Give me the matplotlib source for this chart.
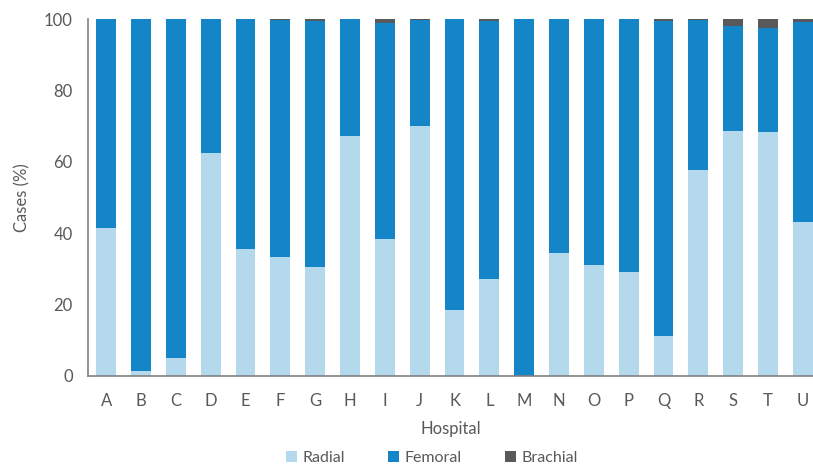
import numpy as np
import matplotlib.pyplot as plt

# Valores (% de casos por hospital)
hospitals = list('ABCDEFGHIJKLMNOPQRSTU')
radial = [41.5, 1.5, 5.0, 62.4, 35.6, 33.3, 30.5, 67.2, 38.5, 70.0, 18.4,
          27.1, 0.0, 34.5, 31.1, 29.1, 11.3, 57.6, 68.6, 68.3, 43.0]
brachial = [0.0, 0.0, 0.0, 0.0, 0.0, 0.2, 0.7, 0.0, 1.0, 0.3, 0.0,
            0.5, 0.0, 0.0, 0.0, 0.0, 0.6, 0.3, 1.9, 2.5, 0.8]
femoral = [100 - r - b for r, b in zip(radial, brachial)]

c_radial = '#B4D9EC'
c_femoral = '#1485C6'
c_brachial = '#58595B'
txt = '#595959'

plt.rcParams['font.family'] = ['Lato', 'DejaVu Sans']

fig = plt.figure(figsize=(8.13, 4.68), dpi=100)
ax = fig.add_axes([88 / 813, 1 - 376 / 468, (813 - 88) / 813, 357 / 468])

x = np.arange(len(hospitals))
w = 0.57
ax.bar(x, radial, w, color=c_radial, label='Radial')
ax.bar(x, femoral, w, bottom=radial, color=c_femoral, label='Femoral')
ax.bar(x, brachial, w, bottom=np.array(radial) + np.array(femoral),
       color=c_brachial, label='Brachial')

ax.set_xlim(-0.52, 20.29)
ax.set_ylim(0, 100)
ax.set_yticks([0, 20, 40, 60, 80, 100])
ax.set_xticks(x)
ax.set_xticklabels(hospitals)
ax.tick_params(length=0, labelsize=12, colors=txt)
ax.tick_params(axis='x', pad=12)
ax.tick_params(axis='y', pad=11)

for s in ['top', 'right']:
    ax.spines[s].set_visible(False)
for s in ['left', 'bottom']:
    ax.spines[s].set_color('#808080')
    ax.spines[s].set_linewidth(1.2)

ax.set_xlabel('Hospital', fontsize=12, color=txt, labelpad=9)
ax.set_ylabel('Cases (%)', fontsize=12, color=txt)
ax.yaxis.set_label_coords(-(88 - 30) / 725, 0.5)

fig.legend(loc='center', bbox_to_anchor=(432 / 813, 1 - 458 / 468), ncol=3,
           frameon=False, fontsize=11.5, handlelength=0.7, handleheight=0.7,
           columnspacing=2.7, handletextpad=0.35, labelcolor=txt)

plt.savefig('out.png', dpi=100)
